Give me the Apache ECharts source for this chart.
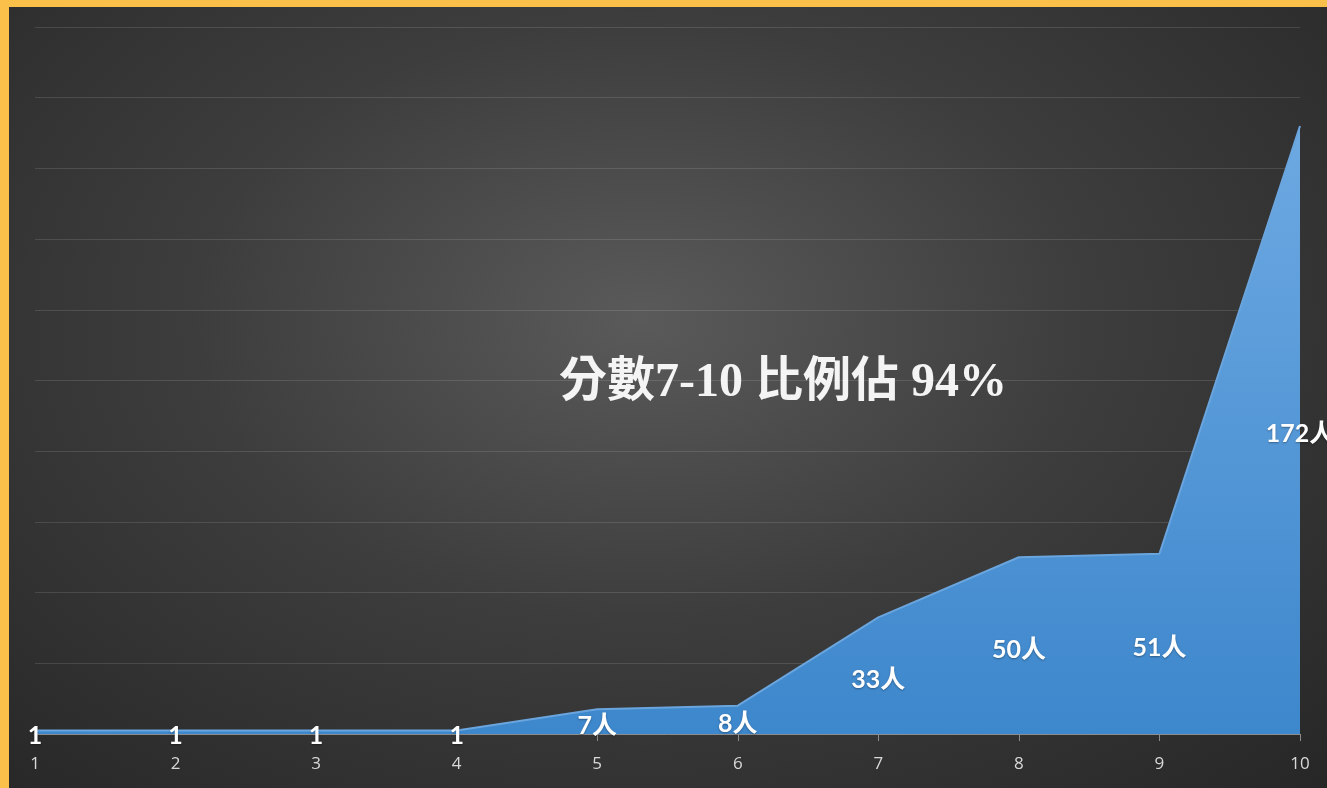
<!DOCTYPE html>
<html>
<head>
<meta charset="utf-8">
<script src="https://cdn.jsdelivr.net/npm/echarts@6/dist/echarts.min.js"></script>
<style>
  html, body { margin: 0; padding: 0; background: #fbc04a; }
  #main {
    position: absolute; left: 9px; top: 7px; width: 1318px; height: 781px;
    background: radial-gradient(ellipse 75% 85% at 48% 40%, #5a5a5a 0%, #3d3d3d 45%, #262626 100%);
  }
</style>
</head>
<body>
<div id="main"></div>
<script>
// 分數 1-10 的人數
var scores = ['1', '2', '3', '4', '5', '6', '7', '8', '9', '10'];
var counts = [1, 1, 1, 1, 7, 8, 33, 50, 51, 172];
var yMax = 200;
var yStep = 20;
var note = '分數7-10 比例佔 94%';

var chart = echarts.init(document.getElementById('main'));

var option = {
  backgroundColor: 'transparent',
  animation: false,
  grid: {left: 26, right: 27, top: 20, bottom: 54},
  xAxis: {
    type: 'category',
    data: scores,
    boundaryGap: false,
    axisLine: {lineStyle: {color: '#8c8c8c', width: 1}},
    axisTick: {show: true, length: 7, lineStyle: {color: '#8c8c8c'}},
    axisLabel: {color: '#d9d9d9', fontSize: 17, fontFamily: 'Open Sans', margin: 22}
  },
  yAxis: {
    type: 'value',
    min: 0,
    max: yMax,
    interval: yStep,
    axisLabel: {show: false},
    axisLine: {show: false},
    axisTick: {show: false},
    splitLine: {lineStyle: {color: 'rgba(255,255,255,0.12)', width: 1}}
  },
  graphic: [{
    type: 'text',
    left: 550,
    top: 353,
    style: {
      text: note,
      fill: '#f4f4f4',
      font: 'bold 48px "Liberation Serif", "Noto Sans CJK TC", serif'
    }
  }],
  series: [
    {
      name: '人數',
      type: 'line',
      data: counts,
      symbol: 'none',
      lineStyle: {color: '#6aa5de', width: 2},
      areaStyle: {
        opacity: 1,
        color: new echarts.graphic.LinearGradient(0, 0, 0, 1, [
          {offset: 0, color: '#6da9e2'},
          {offset: 1, color: '#3d87cc'}
        ])
      },
      z: 2
    },
    {
      // 標籤放在面積的中間高度
      name: 'label',
      type: 'scatter',
      data: counts.map(function (v) { return v / 2; }),
      symbolSize: 1,
      itemStyle: {color: 'rgba(0,0,0,0)'},
      silent: true,
      z: 5,
      label: {
        show: true,
        position: 'inside',
        offset: [0, 4],
        color: '#ffffff',
        opacity: 1,
        fontSize: 25,
        fontWeight: 'bold',
        fontFamily: 'Lato, "Noto Sans CJK TC"',
        textShadowColor: 'rgba(0,0,0,0.35)',
        textShadowBlur: 2,
        textShadowOffsetY: 1,
        formatter: function (p) {
          var v = counts[p.dataIndex];
          return v === 1 ? '1' : v + '人';
        }
      }
    }
  ]
};

chart.setOption(option);
</script>
</body>
</html>
